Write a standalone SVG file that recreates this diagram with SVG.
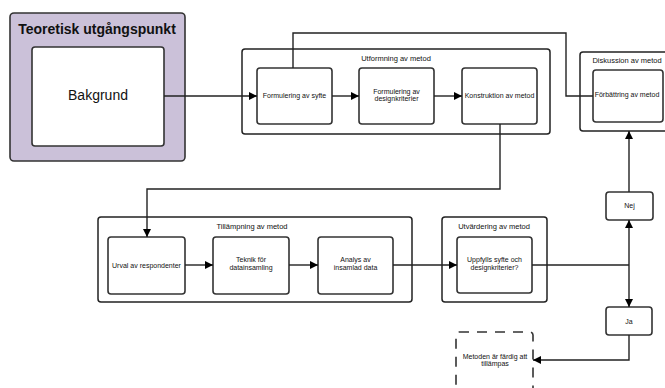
<svg xmlns="http://www.w3.org/2000/svg" width="665" height="388" viewBox="0 0 665 388">
<style>
text{font-family:"Liberation Sans",Arial,sans-serif;fill:#111;text-anchor:middle}
.s{font-size:7px}
.t{font-size:7.5px}
.box{fill:#fff;stroke:#333;stroke-width:1.6}
.outer{fill:#fff;stroke:#222;stroke-width:1.5}
.c{fill:none;stroke:#222;stroke-width:1.4}
</style>
<defs>
<marker id="ah" viewBox="0 0 10 10" refX="10" refY="5" markerWidth="8" markerHeight="8" markerUnits="userSpaceOnUse" orient="auto">
<path d="M0,0 L10,5 L0,10 z" fill="#000"/>
</marker>
</defs>

<g id="teoretisk">
<rect x="10" y="13" width="175" height="148" rx="4" fill="#cbc1d9" stroke="#333" stroke-width="1.6"/>
<text x="97" y="34" style="font-size:14px;font-weight:bold">Teoretisk utgångspunkt</text>
</g>
<g id="bakgrund">
<rect class="box" x="32" y="47" width="132" height="99" rx="3"/>
<text x="98" y="100" style="font-size:14px">Bakgrund</text>
</g>

<g id="utformning">
<rect class="outer" x="242" y="49" width="308" height="85" rx="3"/>
<text class="t" x="396" y="61">Utformning av metod</text>
</g>
<g id="formulering-syfte">
<rect class="box" x="257" y="68" width="75" height="56" rx="3"/>
<text class="s" x="294.5" y="98">Formulering av syfte</text>
</g>
<g id="formulering-design">
<rect class="box" x="359" y="68" width="75" height="56" rx="3"/>
<text class="s" x="396.5" y="94">Formulering av</text>
<text class="s" x="396.5" y="101">designkriterier</text>
</g>
<g id="konstruktion">
<rect class="box" x="462" y="68" width="75" height="56" rx="3"/>
<text class="s" x="499.5" y="98">Konstruktion av metod</text>
</g>

<g id="diskussion">
<rect class="outer" x="580" y="52" width="90" height="79" rx="3"/>
<text class="t" x="627" y="63">Diskussion av metod</text>
</g>
<g id="forbattring">
<rect class="box" x="593" y="70" width="70" height="52" rx="3"/>
<text class="s" x="627" y="97">Förbättring av metod</text>
</g>

<g id="tillampning">
<rect class="outer" x="98" y="217" width="314" height="85" rx="3"/>
<text class="t" x="252" y="229">Tillämpning av metod</text>
</g>
<g id="urval">
<rect class="box" x="108" y="237" width="77" height="57" rx="3"/>
<text class="s" x="146.5" y="268">Urval av respondenter</text>
</g>
<g id="teknik">
<rect class="box" x="213" y="237" width="76" height="57" rx="3"/>
<text class="s" x="251" y="262">Teknik för</text>
<text class="s" x="251" y="270">datainsamling</text>
</g>
<g id="analys">
<rect class="box" x="318" y="237" width="75" height="57" rx="3"/>
<text class="s" x="355.5" y="262">Analys av</text>
<text class="s" x="355.5" y="270">insamlad data</text>
</g>

<g id="utvardering">
<rect class="outer" x="442" y="217" width="105" height="85" rx="3"/>
<text class="t" x="494" y="229">Utvärdering av metod</text>
</g>
<g id="uppfylls">
<rect class="box" x="457" y="237" width="75" height="56" rx="3"/>
<text class="s" x="494.5" y="262">Uppfylls syfte och</text>
<text class="s" x="494.5" y="270">designkriterier?</text>
</g>

<g id="nej">
<rect class="box" x="606" y="192" width="47" height="28" rx="3"/>
<text class="s" x="629.5" y="208">Nej</text>
</g>
<g id="ja">
<rect class="box" x="606" y="307" width="46" height="28" rx="3"/>
<text class="s" x="629" y="324">Ja</text>
</g>
<g id="klar">
<rect x="456" y="332" width="77" height="70" rx="3" fill="#fff" stroke="#333" stroke-width="1.6" stroke-dasharray="10,8"/>
<text class="s" x="495" y="359">Metoden är färdig att</text>
<text class="s" x="495" y="366">tillämpas</text>
</g>

<g id="connectors">
<path class="c" d="M164,96 H257" marker-end="url(#ah)"/>
<path class="c" d="M332,96 H359" marker-end="url(#ah)"/>
<path class="c" d="M434,96 H462" marker-end="url(#ah)"/>
<path class="c" d="M293,68 V33 H566 V96 H593"/>
<path class="c" d="M500,124 V189 H147 V237" marker-end="url(#ah)"/>
<path class="c" d="M185,265 H213" marker-end="url(#ah)"/>
<path class="c" d="M289,265 H318" marker-end="url(#ah)"/>
<path class="c" d="M393,265 H457" marker-end="url(#ah)"/>
<path class="c" d="M532,265 H629"/>
<path class="c" d="M629,265 V220" marker-end="url(#ah)"/>
<path class="c" d="M629,265 V307" marker-end="url(#ah)"/>
<path class="c" d="M629,192 V131" marker-end="url(#ah)"/>
<path class="c" d="M629,335 V360 H533" marker-end="url(#ah)"/>
</g>
</svg>
